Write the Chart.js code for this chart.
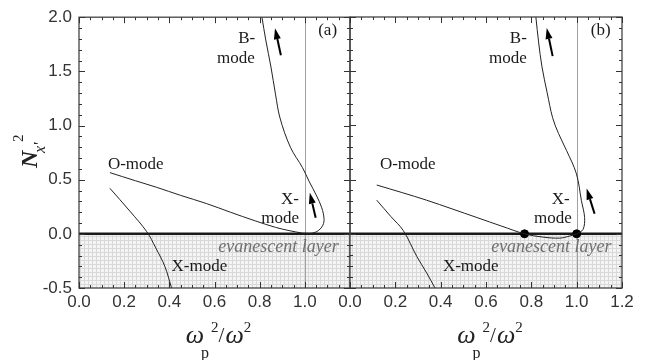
<!DOCTYPE html>
<html><head><meta charset="utf-8">
<script src="https://cdn.jsdelivr.net/npm/chart.js@4"></script>
<style>
html,body{margin:0;padding:0;background:#fff;}
#wrap{position:relative;width:649px;height:360px;overflow:hidden;background:#fff;}
#pa,#pb{position:absolute;top:0;height:360px;}
#pa{left:0;width:360px;}
#pb{left:320px;width:329px;}
</style></head><body>
<div id="wrap"><div id="pa"><canvas id="ca" width="360" height="360"></canvas></div><div id="pb"><canvas id="cb" width="329" height="360"></canvas></div></div>
<script>
// ---- data ----
const xTicks = [0, 0.2, 0.4, 0.6, 0.8, 1.0, 1.2];
const yTicks = [-0.5, 0, 0.5, 1.0, 1.5, 2.0];
const cutoffX = 1.0;

// panel (a)
const oModeA = [
  {x:0.137,y:0.565},{x:0.25,y:0.49},{x:0.343,y:0.43},{x:0.45,y:0.355},{x:0.564,y:0.28},
  {x:0.67,y:0.20},{x:0.78,y:0.12},{x:0.87,y:0.06},{x:0.93,y:0.03},{x:0.99,y:0.006}
];
const xbModeA = [
  {x:0.99,y:0.006},{x:1.03,y:0.006},{x:1.06,y:0.03},{x:1.08,y:0.08},{x:1.085,y:0.14},
  {x:1.075,y:0.24},{x:1.05,y:0.36},{x:1.02,y:0.48},{x:0.99,y:0.61},{x:0.936,y:0.80},
  {x:0.89,y:1.07},{x:0.87,y:1.29},{x:0.85,y:1.54},{x:0.827,y:1.79},{x:0.81,y:2.0}
];
const xModeLowA = [
  {x:0.137,y:0.42},{x:0.225,y:0.21},{x:0.30,y:0.02},{x:0.34,y:-0.13},{x:0.38,y:-0.30},{x:0.41,y:-0.5}
];

// panel (b)
const oModeB = [
  {x:0.118,y:0.45},{x:0.23,y:0.38},{x:0.338,y:0.31},{x:0.45,y:0.23},{x:0.56,y:0.15},
  {x:0.67,y:0.07},{x:0.77,y:0.0},{x:0.85,y:-0.03},{x:0.925,y:-0.04},{x:0.97,y:-0.02},{x:1.0,y:0.0}
];
const xbModeB = [
  {x:1.0,y:0.0},{x:1.028,y:0.04},{x:1.035,y:0.15},{x:1.021,y:0.305},{x:0.999,y:0.553},
  {x:0.955,y:0.77},{x:0.92,y:0.925},{x:0.894,y:1.07},{x:0.87,y:1.3},{x:0.847,y:1.54},
  {x:0.832,y:1.77},{x:0.82,y:2.0}
];
const xModeLowB = [
  {x:0.118,y:0.31},{x:0.18,y:0.16},{x:0.235,y:0.03},{x:0.295,y:-0.21},{x:0.338,y:-0.36},{x:0.375,y:-0.5}
];
const cutoffPointsB = [{x:0.77,y:0.0},{x:1.0,y:0.0}];

// ---- annotations (text / arrows) ----
const labelsA = [
  {t:'O-mode', x:0.128, y:0.60, align:'left'},
  {t:'X-mode', x:0.41, y:-0.343, align:'left'},
  {t:'B-', x:0.78, y:1.76, align:'right'},
  {t:'mode', x:0.778, y:1.574, align:'right'},
  {t:'X-', x:0.974, y:0.278, align:'right'},
  {t:'mode', x:0.974, y:0.10, align:'right'},
  {t:'(a)', x:1.101, y:1.833, align:'center'},
  {t:'evanescent layer', x:1.15, y:-0.167, align:'right', italic:true}
];
const labelsB = [
  {t:'O-mode', x:0.132, y:0.60, align:'left'},
  {t:'X-mode', x:0.41, y:-0.343, align:'left'},
  {t:'B-', x:0.78, y:1.76, align:'right'},
  {t:'mode', x:0.78, y:1.574, align:'right'},
  {t:'X-', x:0.969, y:0.278, align:'right'},
  {t:'mode', x:0.978, y:0.10, align:'right'},
  {t:'(b)', x:1.106, y:1.833, align:'center'},
  {t:'evanescent layer', x:1.154, y:-0.167, align:'right', italic:true}
];
const arrowsA = [
  {x0:0.894,y0:1.648,x1:0.868,y1:1.898},
  {x0:1.048,y0:0.148,x1:1.022,y1:0.38}
];
const arrowsB = [
  {x0:0.894,y0:1.639,x1:0.868,y1:1.898},
  {x0:1.079,y0:0.185,x1:1.044,y1:0.417}
];

const SERIF = '"Liberation Serif","Times New Roman",serif';
const SANS = '"Liberation Sans",Arial,sans-serif';

function shadePattern(ctx){
  const c=document.createElement('canvas'); c.width=4; c.height=4;
  const g=c.getContext('2d');
  g.fillStyle='#d9d9d9'; g.fillRect(0,0,4,4);
  g.fillStyle='#f4f4f4'; g.fillRect(1,1,3,3);
  return ctx.createPattern(c,'repeat');
}

function drawXTitle(ctx, cx, base){
  ctx.fillStyle='#222'; ctx.textAlign='left'; ctx.textBaseline='alphabetic';
  const fW='italic 26px '+SERIF, fS='15px '+SERIF, fSl='21px '+SERIF;
  ctx.font=fW; const wW=ctx.measureText('\u03c9').width;
  ctx.font=fS; const w2=ctx.measureText('2').width;
  ctx.font=fSl; const wS=ctx.measureText('/').width;
  const total = wW + 7 + w2 + wS + 1 + wW + w2;
  let x = cx + 4 - total/2;
  ctx.font=fW; ctx.fillText('\u03c9', x, base);
  ctx.font='16px '+SERIF; ctx.fillText('p', x+wW-3, base+15);
  x += wW + 7;
  ctx.font=fS; ctx.fillText('2', x, base-11); x += w2;
  ctx.font=fSl; ctx.fillText('/', x, base-1); x += wS + 1;
  ctx.font=fW; ctx.fillText('\u03c9', x, base); x += wW;
  ctx.font=fS; ctx.fillText('2', x, base-11);
}

function drawYTitle(ctx){
  ctx.save();
  ctx.translate(37,168); ctx.rotate(-Math.PI/2);
  ctx.fillStyle='#222'; ctx.textAlign='left'; ctx.textBaseline='alphabetic';
  ctx.font='bold italic 24px '+SERIF; ctx.fillText('N',0,0);
  ctx.font='italic 16px '+SERIF; ctx.fillText("x'",15,8);
  ctx.font='15px '+SERIF; ctx.fillText('2',26,-14);
  ctx.restore();
}

function drawArrow(ctx, x0,y0,x1,y1){
  const ang=Math.atan2(y1-y0,x1-x0), L=11, W=3.5;
  const bx=x1-L*Math.cos(ang), by=y1-L*Math.sin(ang);
  ctx.strokeStyle='#000'; ctx.lineWidth=2;
  ctx.beginPath(); ctx.moveTo(x0,y0); ctx.lineTo(bx,by); ctx.stroke();
  ctx.fillStyle='#000';
  ctx.beginPath(); ctx.moveTo(x1,y1);
  ctx.lineTo(bx+W*Math.sin(ang), by-W*Math.cos(ang));
  ctx.lineTo(bx-W*Math.sin(ang), by+W*Math.cos(ang));
  ctx.closePath(); ctx.fill();
}

function panelPlugin(opt){
  return {
    id:'panel'+opt.name,
    beforeDatasetsDraw(chart){
      const {ctx, chartArea:a, scales:{x,y}} = chart;
      ctx.save();
      const y0=y.getPixelForValue(0), yb=y.getPixelForValue(-0.5);
      ctx.fillStyle=shadePattern(ctx);
      ctx.fillRect(a.left, y0, a.right-a.left, yb-y0);
      const xc=Math.round(x.getPixelForValue(cutoffX))+0.5;
      ctx.strokeStyle='#a0a0a0'; ctx.lineWidth=1;
      ctx.beginPath(); ctx.moveTo(xc,a.top); ctx.lineTo(xc,a.bottom); ctx.stroke();
      ctx.strokeStyle='#1a1a1a'; ctx.lineWidth=2.5;
      ctx.beginPath(); ctx.moveTo(a.left,y0); ctx.lineTo(a.right,y0); ctx.stroke();
      ctx.restore();
    },
    afterDatasetsDraw(chart){
      const {ctx, chartArea:a, scales:{x,y}} = chart;
      ctx.save();
      ctx.strokeStyle='#444'; ctx.lineWidth=1.3;
      ctx.strokeRect(a.left, a.top, a.right-a.left, a.bottom-a.top);
      ctx.strokeStyle='#333'; ctx.lineWidth=1;
      ctx.beginPath();
      for(let i=0;i<=24;i++){
        const px=Math.round(x.getPixelForValue(i*0.05))+0.5, L=(i%4===0)?6:3;
        ctx.moveTo(px,a.top); ctx.lineTo(px,a.top+L);
        ctx.moveTo(px,a.bottom); ctx.lineTo(px,a.bottom-L);
      }
      for(let i=0;i<=25;i++){
        const py=Math.round(y.getPixelForValue(-0.5+i*0.1))+0.5, L=(i%5===0)?6:3;
        ctx.moveTo(a.left,py); ctx.lineTo(a.left+L,py);
        ctx.moveTo(a.right,py); ctx.lineTo(a.right-L,py);
      }
      ctx.stroke();
      ctx.textBaseline='alphabetic';
      opt.labels.forEach(l=>{
        ctx.textAlign=l.align;
        if(l.italic){ ctx.font='italic 18px '+SERIF; ctx.fillStyle='#707070'; }
        else { ctx.font='17px '+SERIF; ctx.fillStyle='#1a1a1a'; }
        ctx.fillText(l.t, x.getPixelForValue(l.x), y.getPixelForValue(l.y));
      });
      opt.arrows.forEach(r=>drawArrow(ctx, x.getPixelForValue(r.x0), y.getPixelForValue(r.y0),
                                           x.getPixelForValue(r.x1), y.getPixelForValue(r.y1)));
      ctx.restore();
    },
    afterDraw(chart){
      const {ctx, chartArea:a} = chart;
      ctx.save();
      drawXTitle(ctx, (a.left+a.right)/2, 343);
      if(opt.yTitle) drawYTitle(ctx);
      ctx.restore();
    }
  };
}

function lineDs(data){
  return {data, showLine:true, borderColor:'#222', borderWidth:1, pointRadius:0, tension:0.35, fill:false};
}

function makeChart(id, datasets, opt, leftPanel){
  const tickFont={family:SANS, size:17};
  return new Chart(document.getElementById(id), {
    type:'scatter',
    data:{datasets},
    options:{
      responsive:false, animation:false,
      layout:{padding: leftPanel ? {left:0,right:10,top:17,bottom:0} : {left:30,right:27,top:17,bottom:0}},
      plugins:{legend:{display:false}, tooltip:{enabled:false}},
      scales:{
        x:{type:'linear', min:0, max:1.2,
           afterBuildTicks:s=>{ s.ticks = xTicks.map(v=>({value:v})); },
           ticks:{autoSkip:false, maxRotation:0, padding:4, color:'#333', font:tickFont,
                  callback:(v)=> (leftPanel && v>1.15) ? '' : Number(v).toFixed(1)},
           grid:{display:false, drawTicks:false}, border:{display:false},
           afterFit:s=>{ s.height=72; }},
        y:{type:'linear', min:-0.5, max:2.0, display: leftPanel,
           afterBuildTicks:s=>{ s.ticks = yTicks.map(v=>({value:v})); },
           ticks:{autoSkip:false, padding:7, color:'#333', font:tickFont,
                  callback:(v)=>Number(v).toFixed(1)},
           grid:{display:false, drawTicks:false}, border:{display:false},
           afterFit:s=>{ s.width = leftPanel ? 79 : 0; }}
      }
    },
    plugins:[panelPlugin(opt)]
  });
}

makeChart('ca', [lineDs(oModeA), lineDs(xbModeA), lineDs(xModeLowA)],
  {name:'a', labels:labelsA, arrows:arrowsA, yTitle:true}, true);
makeChart('cb', [lineDs(oModeB), lineDs(xbModeB), lineDs(xModeLowB),
  {data:cutoffPointsB, showLine:false, pointRadius:4, pointBackgroundColor:'#000', pointBorderColor:'#000'}],
  {name:'b', labels:labelsB, arrows:arrowsB, yTitle:false}, false);
</script>
</body></html>
